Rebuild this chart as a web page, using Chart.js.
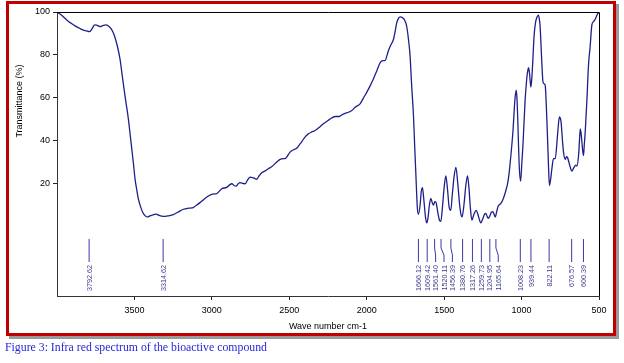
<!DOCTYPE html>
<html>
<head>
<meta charset="utf-8">
<script src="https://cdn.jsdelivr.net/npm/chart.js@4.4.1/dist/chart.umd.min.js"></script>
<style>
  html, body { margin: 0; padding: 0; background: #fff; }
  #wrap { position: relative; width: 624px; height: 363px; overflow: hidden; }
  #frame {
    position: absolute; left: 6px; top: 1px; width: 604px; height: 329px;
    border: 3px solid #c00000; background: #fff; box-shadow: 3px 3px 0 #9a9a9a;
  }
  #chart { position: absolute; left: 0; top: 0; }
  #caption {
    position: absolute; left: 5px; top: 341px; white-space: nowrap;
    font-family: "Liberation Serif", serif; font-size: 11.5px; color: #2626dc;
    transform-origin: 0 0;
  }
</style>
</head>
<body>
<div id="wrap">
  <div id="frame"></div>
  <canvas id="chart" width="624" height="363"></canvas>
  <div id="caption">Figure 3: Infra red spectrum of the bioactive compound</div>
</div>
<script>
// spectrum: wave number (cm-1) and transmittance (%)
const waveNumbers = [
  4000, 3970, 3937, 3910, 3884, 3855, 3830, 3810, 3791, 3775, 3760, 3750, 3735, 3722, 3705, 3685, 3668, 3651,
  3638, 3625, 3610, 3593, 3580, 3567, 3553, 3539, 3528, 3517, 3506, 3496, 3485, 3475, 3460, 3446, 3430, 3416,
  3400, 3388, 3370, 3360, 3340, 3324, 3300, 3281, 3249, 3220, 3184, 3150, 3120, 3100, 3076, 3050, 3022, 2995,
  2968, 2950, 2936, 2904, 2885, 2871, 2857, 2843, 2830, 2818, 2800, 2785, 2770, 2753, 2730, 2710, 2695, 2678,
  2655, 2635, 2610, 2592, 2575, 2559, 2540, 2527, 2510, 2495, 2470, 2452, 2435, 2419, 2400, 2377, 2355, 2333,
  2305, 2280, 2250, 2225, 2200, 2176, 2160, 2140, 2118, 2096, 2075, 2060, 2043, 2020, 2000, 1978, 1957, 1935,
  1913, 1895, 1881, 1870, 1860, 1845, 1827, 1815, 1806, 1795, 1784, 1770, 1758, 1748, 1741, 1730, 1720, 1710,
  1698, 1690, 1683, 1673, 1666, 1655, 1648, 1640, 1632, 1620, 1612, 1604, 1595, 1586, 1577, 1569, 1560, 1552,
  1540, 1528, 1521, 1512, 1500, 1489, 1478, 1468, 1457, 1447, 1436, 1424, 1412, 1400, 1390, 1384, 1372, 1360,
  1349, 1340, 1330, 1321, 1308, 1293, 1280, 1270, 1263, 1250, 1240, 1231, 1222, 1214, 1205, 1195, 1185, 1175,
  1170, 1160, 1150, 1143, 1130, 1117, 1100, 1090, 1080, 1073, 1056, 1043, 1035, 1030, 1026, 1015, 1006, 998,
  991, 977, 965, 959, 955, 949, 940, 935, 929, 919, 910, 901, 891, 884, 880, 869, 862, 855,
  848, 836, 826, 820, 812, 804, 794, 783, 768, 760, 755, 748, 744, 736, 729, 718, 710, 703,
  695, 690, 675, 665, 660, 650, 643, 632, 626, 621, 617, 613, 605, 600, 595, 589, 578, 568,
  557, 546, 535, 525, 510, 500
];
const transmittance = [
  100, 98.5, 96.3, 94.8, 93.5, 92.4, 91.5, 91.2, 90.8, 92, 93.8, 94, 93.6, 93.2, 93.6, 94, 93.5, 92.2,
  90.5, 88, 84, 78, 71, 64, 57, 50, 43, 36, 29, 22, 17, 12.9, 9, 6.4, 4.8, 4.3,
  4.8, 5.1, 5.5, 5.6, 5, 4.7, 4.6, 4.8, 5.4, 6.5, 7.9, 8.4, 8.7, 9.8, 11, 12.6, 14.1, 15,
  15.2, 16.5, 17.5, 18.1, 19.3, 19.8, 19, 18.7, 19.8, 20.3, 20, 19.8, 21.5, 22.9, 22.5, 21.9, 23.5, 25,
  25.8, 26.8, 28, 29.2, 30.3, 31.2, 31.5, 31.5, 33, 34.6, 35.8, 36.4, 38, 39.5, 41.5, 43.1, 44, 44.7,
  46.2, 47.8, 49.3, 50.6, 51.2, 51.2, 52, 52.7, 53.2, 54, 55.5, 56.2, 57.1, 60, 62.5, 65.5, 68.7, 72.5,
  76.4, 77.3, 77.3, 79.5, 81.9, 84.5, 87.3, 91.5, 95, 97, 97.7, 97.4, 96.6, 95, 93, 87, 79.5, 66,
  51.6, 37, 25, 8.5, 5.5, 10, 16, 18, 13, 4, 1.5, 4, 10, 13, 11, 9.8, 11.5, 11,
  6, 2.5, 2.3, 8, 18, 23.5, 17, 9, 7.4, 15, 23, 27.5, 20, 10, 5, 4.3, 10, 19,
  23.5, 18, 8, 2.8, 5.5, 7.4, 5, 2.5, 1.6, 3.5, 5.5, 6, 4.5, 3.6, 4.8, 6.5, 6.8, 5,
  4.3, 7, 9.5, 10, 11, 13, 17, 20, 25, 30, 44, 59, 63.5, 60, 53, 28, 21, 30,
  38, 59, 70, 73, 74, 71.5, 65, 68, 75, 89, 95, 97.5, 98.5, 96, 93, 76, 67.5, 66.5,
  66, 48.5, 28, 19, 22, 27, 31.5, 31.5, 42.3, 49, 51, 50, 48, 40, 34.6, 31.2, 32.5, 32,
  30, 28.7, 25.7, 27, 27.6, 28.5, 28, 33, 40, 45.4, 44, 41.5, 35, 33, 38, 44, 59, 75,
  84, 94, 95.5, 96.6, 99, 99.7
];
const peakLabels = [
  '3792.62', '3314.62', '1666.12', '1609.42', '1561.40', '1520.11', '1456.39', '1380.76', '1317.26',
  '1259.73', '1204.95', '1165.64', '1008.23', '939.44', '822.11', '676.57', '600.39'
];
const xTicks = [3500, 3000, 2500, 2000, 1500, 1000, 500];
const yTicks = [20, 40, 60, 80, 100];

const points = waveNumbers.map((w, i) => ({ x: w, y: transmittance[i] }));

// frame, peak markers and axis titles
const decorations = {
  id: 'decorations',
  afterDraw(chart) {
    const { ctx, chartArea: a, scales: { x, y } } = chart;
    ctx.save();
    ctx.strokeStyle = '#000';
    ctx.lineWidth = 1;
    ctx.beginPath();
    ctx.moveTo(a.left, a.top + 0.5);
    ctx.lineTo(a.right + 0.5, a.top + 0.5);
    ctx.lineTo(a.right + 0.5, a.bottom);
    ctx.stroke();

    // peak lines; labels pushed right when they would overlap
    const top = y.getPixelForValue(-6), bend1 = top + 9, bend2 = top + 16, bottom = top + 23;
    let prev = -Infinity;
    ctx.font = '7.2px "Liberation Sans", Arial, sans-serif';
    peakLabels.forEach(lbl => {
      const px = x.getPixelForValue(parseFloat(lbl));
      const lx = Math.max(px, prev + 8.4);
      prev = lx;
      ctx.strokeStyle = '#3a3aa6';
      ctx.beginPath();
      ctx.moveTo(px, top);
      if (lx - px > 0.6) {
        ctx.lineTo(px, bend1);
        ctx.lineTo(lx, bend2);
      }
      ctx.lineTo(lx, bottom);
      ctx.stroke();
      ctx.save();
      ctx.translate(lx + 2.6, bottom + 3);
      ctx.rotate(-Math.PI / 2);
      ctx.fillStyle = '#3c3c8e';
      ctx.textAlign = 'right';
      ctx.textBaseline = 'alphabetic';
      ctx.fillText(lbl, 0, 0);
      ctx.restore();
    });

    ctx.fillStyle = '#000';
    ctx.font = '9px "Liberation Sans", Arial, sans-serif';
    ctx.textAlign = 'center';
    ctx.textBaseline = 'middle';
    ctx.fillText('Wave number cm-1', (a.left + a.right) / 2, 327);
    ctx.save();
    ctx.translate(20, 101);
    ctx.rotate(-Math.PI / 2);
    ctx.fillText('Transmittance (%)', 0, 0);
    ctx.restore();
    ctx.restore();
  }
};

new Chart(document.getElementById('chart'), {
  type: 'line',
  data: {
    datasets: [{
      data: points,
      borderColor: '#1f1f8a',
      borderWidth: 1.3,
      pointRadius: 0,
      cubicInterpolationMode: 'monotone',
      fill: false
    }]
  },
  options: {
    responsive: false,
    animation: false,
    events: [],
    layout: { padding: { left: 0, top: 12, right: 25, bottom: 27 } },
    plugins: { legend: { display: false }, tooltip: { enabled: false } },
    scales: {
      x: {
        type: 'linear',
        reverse: true,
        min: 500,
        max: 4000,
        afterBuildTicks: s => { s.ticks = xTicks.map(v => ({ value: v })); },
        afterFit: s => { s.height = 40; },
        ticks: {
          color: '#000', padding: 5, maxRotation: 0, autoSkip: false,
          callback: v => String(v),
          font: { family: '"Liberation Sans", Arial, sans-serif', size: 9 }
        },
        grid: { drawOnChartArea: false, tickLength: 4, color: '#222' },
        border: { color: '#333', width: 1 }
      },
      y: {
        min: -32.6,
        max: 100,
        afterBuildTicks: s => { s.ticks = yTicks.map(v => ({ value: v })); },
        afterFit: s => { s.width = 57; },
        ticks: {
          color: '#000', padding: 3, autoSkip: false,
          callback: v => String(v),
          font: { family: '"Liberation Sans", Arial, sans-serif', size: 9 }
        },
        grid: { drawOnChartArea: false, tickLength: 4, color: '#222' },
        border: { color: '#333', width: 1 }
      }
    }
  },
  plugins: [decorations]
});

// stretch the caption to the width it has in the picture
const cap = document.getElementById('caption');
cap.style.transform = 'scaleX(' + (262 / cap.getBoundingClientRect().width) + ')';
</script>
</body>
</html>
